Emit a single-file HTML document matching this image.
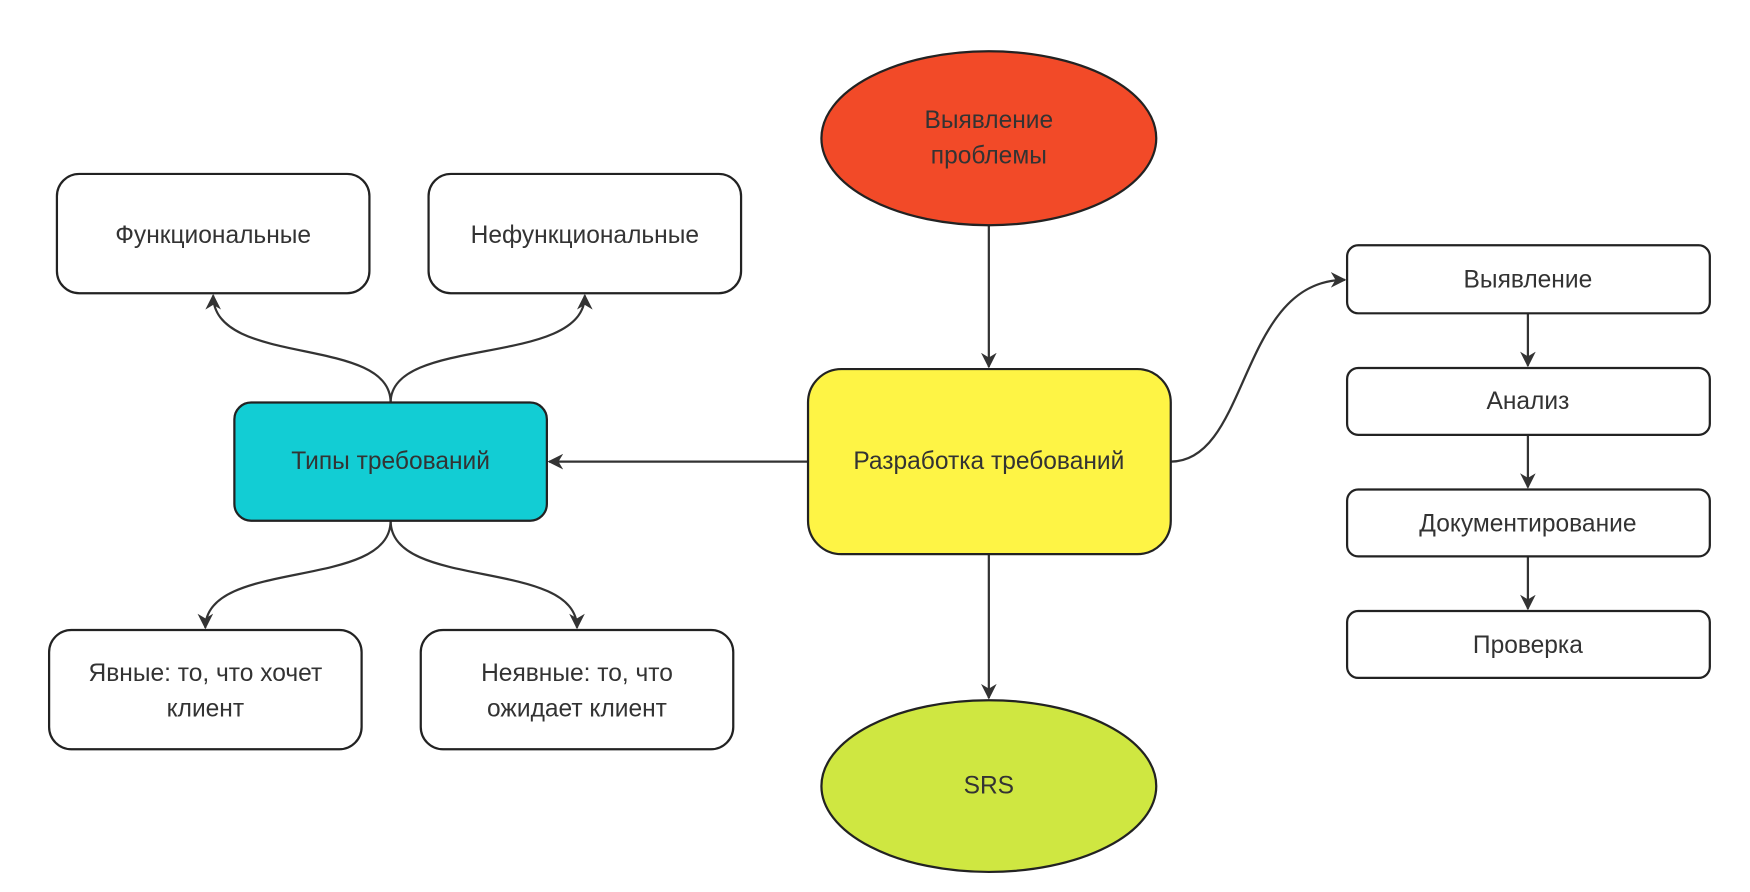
<!DOCTYPE html>
<html><head><meta charset="utf-8"><style>
html,body{margin:0;padding:0;background:#fff;}
svg{display:block;}
text{font-family:"Liberation Sans","DejaVu Sans",sans-serif;font-size:22px;fill:#333;text-anchor:middle;dominant-baseline:middle;}
</style></head><body>
<svg width="1750" height="892" viewBox="0 0 1568 800" preserveAspectRatio="none" xmlns="http://www.w3.org/2000/svg">
<defs><marker id="a" viewBox="0 0 10 10" refX="9" refY="5" markerWidth="7" markerHeight="7" markerUnits="userSpaceOnUse" orient="auto-start-reverse"><path d="M0,0L10,5L0,10L3,5z" fill="#333"/></marker>
<marker id="b" viewBox="0 0 10 10" refX="9" refY="5" markerWidth="14" markerHeight="14" markerUnits="userSpaceOnUse" orient="auto-start-reverse"><path d="M0,0L10,5L0,10L3,5z" fill="#333"/></marker></defs>
<g stroke="#333" stroke-width="2" fill="none" marker-end="url(#b)">
<path d="M886,202V329"/>
<path d="M886,497V626"/>
<path d="M724,414H492"/>
<path d="M1049,414C1120,414 1110,251 1205,251"/>
<path d="M350,361C350,300 191,330 191,265"/>
<path d="M350,361C350,300 524,330 524,265"/>
<path d="M350,467C350,530 184,500 184,563"/>
<path d="M350,467C350,530 517,500 517,563"/>
<path d="M1369,281V328"/>
<path d="M1369,390V437"/>
<path d="M1369,499V546"/>
</g>
<g stroke="#222" stroke-width="2">
<ellipse cx="886" cy="124" rx="150" ry="78" fill="#f24a28"/>
<ellipse cx="886" cy="705" rx="150" ry="77" fill="#cfe741"/>
<rect x="724" y="331" width="325" height="166" rx="30" fill="#fef445"/>
<rect x="210" y="361" width="280" height="106" rx="15" fill="#12cdd4"/>
<rect x="51" y="156" width="280" height="107" rx="20" fill="#fff"/>
<rect x="384" y="156" width="280" height="107" rx="20" fill="#fff"/>
<rect x="44" y="565" width="280" height="107" rx="20" fill="#fff"/>
<rect x="377" y="565" width="280" height="107" rx="20" fill="#fff"/>
<rect x="1207" y="220" width="325" height="61" rx="10" fill="#fff"/>
<rect x="1207" y="330" width="325" height="60" rx="10" fill="#fff"/>
<rect x="1207" y="439" width="325" height="60" rx="10" fill="#fff"/>
<rect x="1207" y="548" width="325" height="60" rx="10" fill="#fff"/>
</g>
<text x="886" y="109">Выявление</text>
<text x="886" y="141">проблемы</text>
<text x="886" y="706">SRS</text>
<text x="886" y="415">Разработка требований</text>
<text x="350" y="415">Типы требований</text>
<text x="191" y="212">Функциональные</text>
<text x="524" y="212">Нефункциональные</text>
<text x="184" y="605">Явные: то, что хочет</text>
<text x="184" y="637">клиент</text>
<text x="517" y="605">Неявные: то, что</text>
<text x="517" y="637">ожидает клиент</text>
<text x="1369" y="252">Выявление</text>
<text x="1369" y="361">Анализ</text>
<text x="1369" y="471">Документирование</text>
<text x="1369" y="580">Проверка</text>
</svg>
</body></html>
